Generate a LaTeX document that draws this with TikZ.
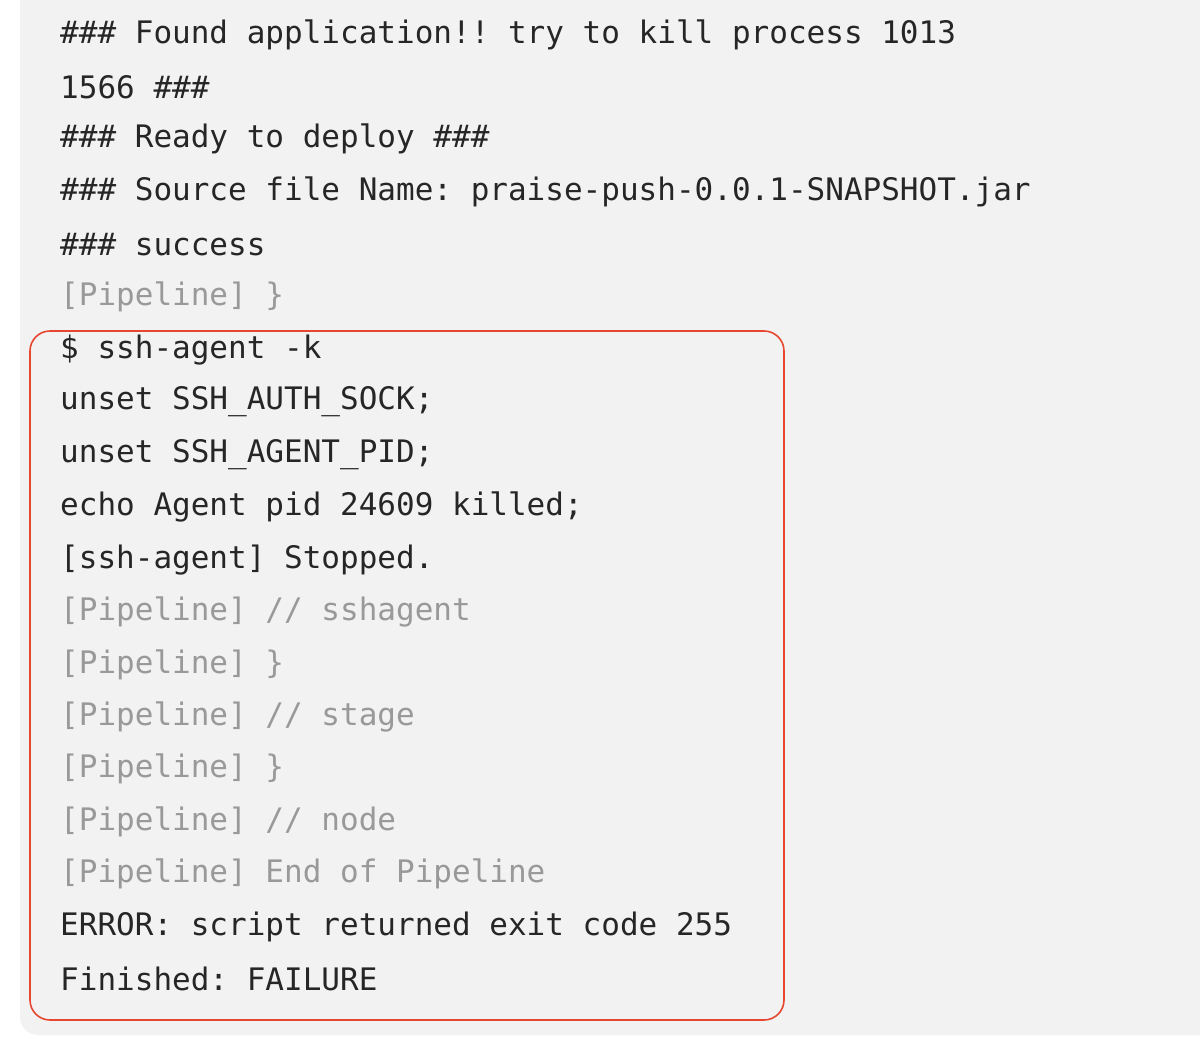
\documentclass[tikz,border=0pt]{standalone}
\usepackage{fontspec}
\setmonofont{DejaVu Sans Mono}
\begin{document}
\begin{tikzpicture}[x=1pt,y=-1pt,
  ln/.style={anchor=west,inner sep=0pt,font=\fontsize{31}{31}\selectfont\ttfamily,text=black!85},
  dim/.style={ln,text=black!40}]
\definecolor{panel}{HTML}{F2F2F2}
\definecolor{redbox}{HTML}{E8472F}
\useasboundingbox (0,0) rectangle (1200,1040);
\fill[white] (0,0) rectangle (1200,1040);
\fill[panel,rounded corners=18pt] (20,-30) rectangle (1230,1035);
\draw[redbox,line width=1.6pt,rounded corners=20pt] (30,331) rectangle (784,1020);
\node[ln] (l1) at (60,35) {\#\#\# Found application!! try to kill process 1013};
\node[ln] (l2) at (60,87) {1566 \#\#\#};
\node[ln] (l3) at (60,139) {\#\#\# Ready to deploy \#\#\#};
\node[ln] (l4) at (60,192) {\#\#\# Source file Name: praise-push-0.0.1-SNAPSHOT.jar};
\node[ln] (l5) at (60,245) {\#\#\# success};
\node[dim] (l6) at (60,297) {[Pipeline] \}};
\node[ln] (l7) at (60,350) {\$ ssh-agent -k};
\node[ln] (l8) at (60,402) {unset SSH\_AUTH\_SOCK;};
\node[ln] (l9) at (60,455) {unset SSH\_AGENT\_PID;};
\node[ln] (l10) at (60,507) {echo Agent pid 24609 killed;};
\node[ln] (l11) at (60,560) {[ssh-agent] Stopped.};
\node[dim] (l12) at (60,612) {[Pipeline] // sshagent};
\node[dim] (l13) at (60,665) {[Pipeline] \}};
\node[dim] (l14) at (60,717) {[Pipeline] // stage};
\node[dim] (l15) at (60,769) {[Pipeline] \}};
\node[dim] (l16) at (60,822) {[Pipeline] // node};
\node[dim] (l17) at (60,874) {[Pipeline] End of Pipeline};
\node[ln] (l18) at (60,927) {ERROR: script returned exit code 255};
\node[ln] (l19) at (60,979) {Finished: FAILURE};
\end{tikzpicture}
\end{document}
